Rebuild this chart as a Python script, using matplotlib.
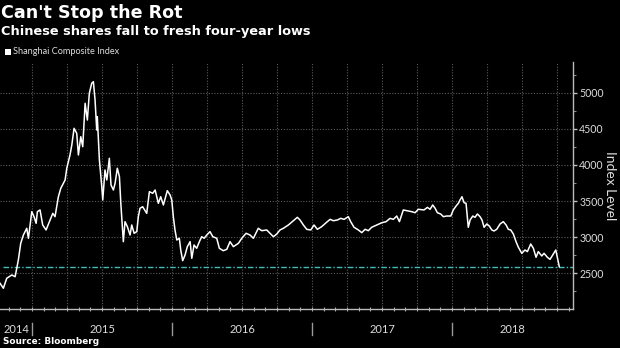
import matplotlib
matplotlib.use("Agg")
import matplotlib.pyplot as plt
from matplotlib.transforms import blended_transform_factory
import numpy as np

# ---- data (decimal year, index level) ----
years = [
    2014.771, 2014.795, 2014.819, 2014.855, 2014.879, 2014.902, 2014.919, 2014.938, 2014.962, 2014.974,
    2014.998, 2015.014, 2015.029, 2015.038, 2015.057, 2015.076, 2015.100, 2015.129, 2015.148, 2015.164,
    2015.188, 2015.205, 2015.236, 2015.248, 2015.271, 2015.284, 2015.300, 2015.319, 2015.331, 2015.348,
    2015.362, 2015.379, 2015.395, 2015.409, 2015.426, 2015.438, 2015.450, 2015.462, 2015.466, 2015.481,
    2015.498, 2015.505, 2015.521, 2015.534, 2015.552, 2015.564, 2015.581, 2015.593, 2015.609, 2015.624,
    2015.634, 2015.652, 2015.664, 2015.681, 2015.700, 2015.712, 2015.729, 2015.748, 2015.759,
    2015.771, 2015.790, 2015.819, 2015.838, 2015.862, 2015.879, 2015.902, 2015.919, 2015.938, 2015.966,
    2015.986, 2015.998, 2016.009, 2016.021, 2016.034, 2016.052, 2016.062, 2016.076, 2016.093, 2016.109,
    2016.129, 2016.141, 2016.157, 2016.176, 2016.195, 2016.212, 2016.229, 2016.248, 2016.271, 2016.291,
    2016.319, 2016.338, 2016.366, 2016.391, 2016.414, 2016.438, 2016.474, 2016.498, 2016.529, 2016.557,
    2016.581, 2016.616, 2016.641, 2016.676, 2016.700, 2016.724, 2016.748, 2016.771,
    2016.795, 2016.831, 2016.866, 2016.895, 2016.914, 2016.938, 2016.962, 2016.991, 2017.014, 2017.038,
    2017.069, 2017.100, 2017.129, 2017.152, 2017.181, 2017.205, 2017.229, 2017.259, 2017.276, 2017.300,
    2017.331, 2017.355, 2017.379, 2017.402, 2017.426, 2017.462, 2017.498, 2017.529, 2017.557, 2017.581,
    2017.605, 2017.624, 2017.652, 2017.676, 2017.712, 2017.736, 2017.759,
    2017.800, 2017.824, 2017.843, 2017.862, 2017.879, 2017.895, 2017.919, 2017.938, 2017.962, 2017.991,
    2018.009, 2018.029, 2018.045, 2018.057, 2018.071, 2018.086, 2018.100, 2018.116, 2018.129, 2018.148,
    2018.164, 2018.181, 2018.200, 2018.214, 2018.229, 2018.248, 2018.266, 2018.284, 2018.300, 2018.319,
    2018.343, 2018.366, 2018.386, 2018.402, 2018.419, 2018.438, 2018.457, 2018.474, 2018.498, 2018.521,
    2018.538, 2018.562, 2018.581, 2018.600, 2018.616, 2018.641, 2018.657, 2018.681, 2018.700, 2018.719,
    2018.741, 2018.752, 2018.766,
]
index_level = [
    2362, 2293, 2431, 2477, 2453, 2684, 2915, 3030, 3123, 2985,
    3353, 3284, 3192, 3353, 3377, 3169, 3100, 3238, 3330, 3284,
    3560, 3676, 3792, 3954, 4138, 4276, 4507, 4438, 4138, 4391,
    4253, 4853, 4622, 4992, 5130, 5152, 4899, 4484, 4668, 4069,
    3700, 3515, 3930, 3792, 4092, 3722, 3653, 3746, 3954, 3838,
    3469, 2938, 3215, 3145, 3030, 3169, 3054, 3077, 3284,
    3400, 3422, 3330, 3630, 3607, 3653, 3469, 3560, 3446, 3644,
    3584, 3515, 3284, 3100, 2961, 2985, 2823, 2675, 2754, 2869,
    2938, 2708, 2892, 2846, 2938, 3007, 2985, 3030, 3077, 3007,
    2985, 2846, 2813, 2832, 2938, 2869, 2915, 2985, 3054, 3030,
    2985, 3123, 3090, 3100, 3054, 3007, 3044, 3100,
    3123, 3169, 3228, 3275, 3238, 3169, 3109, 3100, 3169, 3109,
    3146, 3200, 3247, 3228, 3238, 3261, 3247, 3284, 3215, 3137,
    3100, 3063, 3109, 3090, 3137, 3169, 3200, 3215, 3261, 3247,
    3293, 3215, 3377, 3367, 3353, 3339, 3386,
    3377, 3413, 3386, 3446, 3400, 3339, 3321, 3284, 3293, 3293,
    3377, 3432, 3469, 3515, 3560, 3477, 3469, 3137, 3238, 3293,
    3275, 3321, 3284, 3238, 3137, 3183, 3155, 3100, 3086, 3109,
    3183, 3215, 3169, 3109, 3100, 3044, 2938, 2860, 2777, 2823,
    2800, 2906, 2846, 2722, 2800, 2740, 2777, 2722, 2693, 2754,
    2823, 2722, 2592,
]
latest_level = 2587

year_labels = ["2014", "2015", "2016", "2017", "2018"]
year_starts = [2015, 2016, 2017, 2018]
y_ticks = [2500, 3000, 3500, 4000, 4500, 5000]

title = "Can't Stop the Rot"
subtitle = "Chinese shares fall to fresh four-year lows"
legend_label = "Shanghai Composite Index"
y_label = "Index Level"
source = "Source: Bloomberg"

# ---- figure ----
W, H = 620, 348
fig = plt.figure(figsize=(W / 100, H / 100), dpi=100, facecolor="black")
ax = fig.add_axes([0 / W, (H - 309) / H, 573 / W, 247 / H], facecolor="black")

x0, x1 = 2014.771, 2018.864
ax.set_xlim(x0, x1)
ax.set_ylim(2006, 5425)

grid_c = "#5a5a5a"
# grid
for yv in y_ticks:
    ax.axhline(yv, color=grid_c, lw=0.8, ls=(0, (1, 1.5)), zorder=1)
quarters = [y + q / 4 for y in range(2014, 2019) for q in range(4)]
for qv in quarters:
    if x0 < qv < x1:
        ax.axvline(qv, color=grid_c, lw=0.8, ls=(0, (1, 1.5)), zorder=1)

ax.plot(years, index_level, color="white", lw=1.1, zorder=3)
ax.axhline(latest_level, xmin=0.006, color="#3fbfb8", lw=1.0,
           ls=(0, (4, 1.5, 1, 1.5)), zorder=2)

# spines
for s in ["top", "left"]:
    ax.spines[s].set_visible(False)
for s in ["right", "bottom"]:
    ax.spines[s].set_color("#bbbbbb")
    ax.spines[s].set_linewidth(1.0)

# y axis on right
ax.yaxis.tick_right()
ax.set_yticks(y_ticks)
ax.set_yticklabels([str(v) for v in y_ticks])
ax.set_yticks(np.arange(2250, 5500, 500), minor=True)
ax.tick_params(axis="y", which="major", direction="out", length=3, width=1,
               color="#bbbbbb", labelcolor="#dddddd", labelsize=7.6, pad=1.5)
ax.tick_params(axis="y", which="minor", direction="out", length=2, width=0.8,
               color="#888888")
for lbl in ax.get_yticklabels():
    lbl.set_fontfamily("Lato")

# x axis: monthly minor ticks, labels drawn manually
months = [y + m / 12 for y in range(2014, 2019) for m in range(12)]
ax.set_xticks([m for m in months if x0 < m < x1], minor=True)
ax.set_xticks([])
ax.tick_params(axis="x", which="minor", direction="inout", length=3, width=0.8,
               color="#aaaaaa")

trans = blended_transform_factory(ax.transData, ax.transAxes)
for ys in year_starts:
    ax.plot([ys, ys], [-0.057, -0.105], color="#999999", lw=1.0,
            transform=trans, clip_on=False)
bounds = [x0] + year_starts + [x1]
for i, lab in enumerate(year_labels):
    xc = (bounds[i] + bounds[i + 1]) / 2
    ax.text(xc, -0.083, lab, transform=trans, ha="center", va="center",
            color="#dddddd", fontsize=8, family="Lato")

# right axis label
fig.text(610 / W, 1 - 186 / H, y_label, rotation=270, ha="center", va="center",
         color="#dddddd", fontsize=10, family="Lato")

# titles
fig.text(1 / W, 1 - 13 / H, title, ha="left", va="center", color="white",
         fontsize=12.6, fontweight="bold", family="DejaVu Sans")
fig.text(1 / W, 1 - 31 / H, subtitle, ha="left", va="center", color="white",
         fontsize=9.3, fontweight="bold", family="DejaVu Sans")

# legend
fig.patches.append(plt.Rectangle((5 / W, 1 - 55 / H), 6 / W, 6 / H,
                                 transform=fig.transFigure, facecolor="white",
                                 edgecolor="none"))
fig.text(13 / W, 1 - 52 / H, legend_label, ha="left", va="center",
         color="#dddddd", fontsize=6.6, family="Lato")

fig.text(3 / W, 1 - 342 / H, source, ha="left", va="center", color="white",
         fontsize=6.4, fontweight="bold", family="DejaVu Sans")

fig.savefig("out.png", dpi=100, facecolor="black")
